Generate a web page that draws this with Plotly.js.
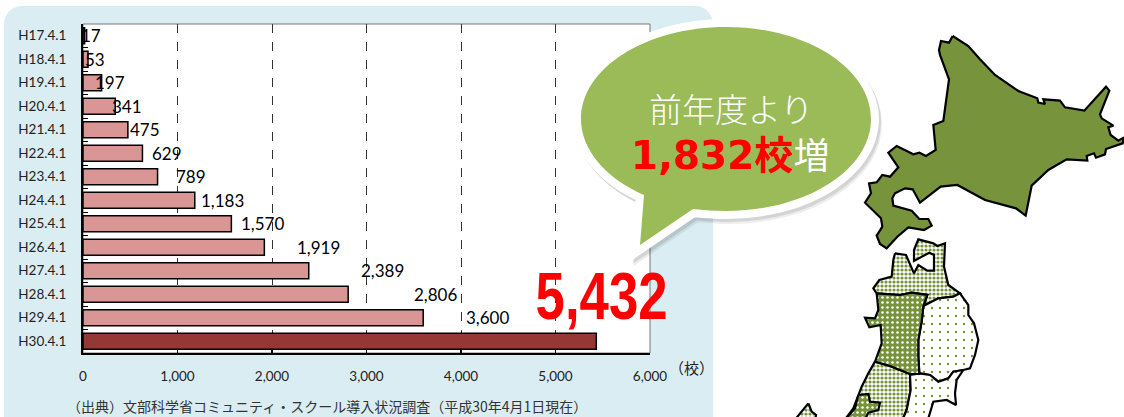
<!DOCTYPE html>
<html><head><meta charset="utf-8">
<script src="https://cdn.plot.ly/plotly-3.0.1.min.js"></script>
<style>html,body{margin:0;padding:0;background:#fff;overflow:hidden}#c{width:1124px;height:417px}</style>
</head><body><div id="c"></div>
<script>
const categories=["H17.4.1","H18.4.1","H19.4.1","H20.4.1","H21.4.1","H22.4.1","H23.4.1","H24.4.1","H25.4.1","H26.4.1","H27.4.1","H28.4.1","H29.4.1","H30.4.1"];
const schools=[17,53,197,341,475,629,789,1183,1570,1919,2389,2806,3600,5432];
const barColors=categories.map((c,i)=>i===categories.length-1?"#953735":"#d99694");
const labelPixelX=[91,95,110,127,145,167,191,222,262,318,382,435,487,601];

const W=1124,H=417;
const plotL=83,plotR=650,plotT=24,plotB=353;

// Map outlines: [zoomed x, zoomed y]; decoration beside the chart
const hokkaido=[[458,48],[505,78],[540,118],[585,165],[655,213],[712,235],[715,248],[735,252],[730,238],[780,242],[795,262],[853,272],[918,200],[928,212],[900,283],[905,295],[940,317],[925,322],[932,345],[955,362],[972,352],[968,370],[918,387],[915,403],[888,413],[882,400],[860,408],[862,422],[800,418],[745,450],[695,497],[677,587],[648,565],[555,540],[472,495],[422,500],[360,548],[338,508],[315,505],[285,520],[277,535],[280,557],[335,572],[358,597],[385,597],[395,617],[372,630],[325,622],[292,650],[260,685],[240,672],[230,647],[247,620],[243,595],[195,548],[213,520],[207,490],[230,487],[247,465],[270,470],[295,442],[265,398],[290,378],[340,403],[358,398],[378,408],[407,390],[400,315],[430,303],[447,178],[420,105],[417,90],[423,63],[447,68]];
const aomori=[[315,70],[348,75],[372,130],[385,105],[412,122],[432,122],[432,75],[418,68],[372,93],[372,60],[385,28],[430,40],[442,48],[465,40],[462,110],[475,165],[510,190],[490,200],[445,205],[400,228],[412,195],[365,188],[330,195],[260,190],[250,175],[268,150],[305,140],[310,90]];
const akita=[[260,190],[330,195],[365,188],[412,195],[400,228],[395,275],[385,330],[385,380],[388,432],[360,432],[300,408],[255,395],[275,340],[272,285],[238,292],[225,263],[255,265],[265,240]];
const iwate=[[400,228],[445,205],[490,200],[510,190],[535,225],[535,255],[552,280],[565,330],[555,375],[540,415],[520,420],[490,425],[475,445],[445,455],[420,435],[388,430],[385,380],[385,330],[395,275]];
const yamagata=[[255,395],[300,408],[360,432],[362,480],[350,540],[335,575],[160,575],[190,535],[215,470],[235,430]];
const miyagi=[[360,435],[388,430],[420,435],[445,455],[475,445],[490,425],[520,420],[500,450],[495,490],[498,525],[470,510],[430,515],[412,575],[335,575],[350,540],[362,480]];
const niigata=[[205,495],[235,492],[240,515],[270,518],[265,540],[235,548],[222,575],[160,575],[195,535]];
const sado=[[55,520],[65,545],[78,555],[75,575],[10,575],[45,530]];

const green="#77933c";
const hk=p=>[800+p[0]/3,20+p[1]/3], th=p=>[790+p[0]/3,230+p[1]/3];
function region(pts,conv,pattern,fill){
  const q=pts.map(conv);q.push(q[0]);
  const t={type:"scatter",mode:"lines",xaxis:"x2",yaxis:"y2",x:q.map(p=>p[0]),y:q.map(p=>p[1]),
    fill:"toself",fillcolor:fill||"#fff",line:{color:"#000",width:2.2},hoverinfo:"skip",showlegend:false};
  if(pattern)t.fillpattern=pattern;
  return t;
}
const checker={shape:".",fgcolor:green,bgcolor:"#fff",size:4,solidity:0.5};
const denseWhite={shape:".",fgcolor:"#fff",bgcolor:green,size:5,solidity:0.2};
const sparse={shape:".",fgcolor:green,bgcolor:"#fff",size:8,solidity:0.07};

const traces=[
 {type:"bar",orientation:"h",y:categories,x:schools,width:0.68,
  marker:{color:barColors,line:{color:"#000",width:1.5}},hoverinfo:"skip",showlegend:false},
 region(hokkaido,hk,null,green),
 region(aomori,th,checker),
 region(iwate,th,sparse),
 region(yamagata,th,checker),
 region(miyagi,th,sparse),
 region(akita,th,denseWhite),
 region(niigata,th,denseWhite),
 region(sado,th,checker)
];

const bubble="M644,195 C605,178 581,149 581,119 C581,68 646,27 726,27 C806,27 871,68 871,119 C871,170 806,211 726,211 C715,211 704,210 693,209 L640,245 Z";
const bubbleShadow1="M646,198 C607,181 583,152 583,122 C583,71 648,30 728,30 C808,30 873,71 873,122 C873,173 808,214 728,214 C717,214 706,213 695,212 L642,248 Z";
const bubbleShadow2="M647,199 C608,182 584,153 584,124 C584,73 649,32 729,32 C809,32 874,73 874,124 C874,175 809,216 729,216 C718,216 707,215 696,214 L643,250 Z";

const labelFont={family:"Lato, 'Open Sans', sans-serif",size:17,color:"#000"};
const annotations=schools.slice(0,13).map((v,i)=>({
  xref:"x2",yref:"y",x:labelPixelX[i],y:categories[i],text:v.toLocaleString("en-US"),
  showarrow:false,xanchor:"center",yanchor:"middle",font:labelFont}));
annotations.push(
 {xref:"x2",yref:"y2",x:labelPixelX[13],y:296,text:schools[13].toLocaleString("en-US"),showarrow:false,
  font:{family:"'Liberation Sans',sans-serif",size:66,color:"#ff0000",weight:700}},
 {xref:"x2",yref:"y2",x:691,y:367,text:"（校）",showarrow:false,
  font:{family:"'Noto Sans CJK JP'",size:15,color:"#222"}},
 {xref:"x2",yref:"y2",x:65,y:406,xanchor:"left",text:"（出典）文部科学省コミュニティ・スクール導入状況調査（平成30年4月1日現在）",showarrow:false,
  font:{family:"'Noto Sans CJK JP'",size:14,color:"#333"}},
 {xref:"x2",yref:"y2",x:731,y:108,text:"前年度より",showarrow:false,
  font:{family:"'Noto Sans CJK JP'",size:33,color:"#fff",weight:300}},
 {xref:"x2",yref:"y2",x:730,y:155,text:"<b><span style=\"color:#ff0000\">1,832校</span></b><span style=\"font-size:36px\">増</span>",showarrow:false,
  font:{family:"'DejaVu Sans','Noto Sans CJK JP'",size:39,color:"#fff"}}
);

const px=(x)=>(x/W).toFixed(5), py=(y)=>(1-y/H).toFixed(5);
const layout={
 width:W,height:H,margin:{l:0,r:0,t:0,b:0,pad:0},paper_bgcolor:"#fff",plot_bgcolor:"rgba(0,0,0,0)",showlegend:false,
 xaxis:{domain:[plotL/W,plotR/W],range:[0,6000],tickvals:[0,1000,2000,3000,4000,5000,6000],ticktext:["0","1,000","2,000","3,000","4,000","5,000","6,000"],
  showgrid:true,gridcolor:"#333",griddash:"dash",gridwidth:1,zeroline:false,ticks:"inside",ticklen:4,tickcolor:"#000",tickwidth:1.5,
  showline:true,linecolor:"#000",linewidth:2,ticklabelstandoff:10,anchor:"y",
  tickfont:{family:"Lato, 'Open Sans', sans-serif",size:13.5,color:"#222"}},
 yaxis:{domain:[1-plotB/H,1-plotT/H],type:"category",categoryorder:"array",categoryarray:categories,range:[13.5,-0.5],
  showgrid:false,zeroline:false,ticks:"inside",ticklen:5,tickcolor:"#000",tickwidth:1,tickson:"boundaries",
  showline:true,linecolor:"#000",linewidth:2,ticklabelstandoff:12,anchor:"x",
  tickfont:{family:"Lato, 'Open Sans', sans-serif",size:13.5,color:"#222"}},
 xaxis2:{domain:[0,1],range:[0,W],visible:false,fixedrange:true,anchor:"y2"},
 yaxis2:{domain:[0,1],range:[H,0],visible:false,fixedrange:true,anchor:"x2"},
 shapes:[
  {type:"path",layer:"below",xref:"paper",yref:"paper",
   path:`M${px(4)},${py(417)} L${px(4)},${py(24)} C${px(4)},${py(14)} ${px(12)},${py(6)} ${px(22)},${py(6)} L${px(695)},${py(6)} C${px(705)},${py(6)} ${px(713)},${py(14)} ${px(713)},${py(24)} L${px(713)},${py(417)} Z`,
   fillcolor:"#daedf3",line:{width:0}},
  {type:"rect",layer:"below",xref:"paper",yref:"paper",x0:plotL/W,x1:plotR/W,y0:1-plotB/H,y1:1-plotT/H,fillcolor:"#fff",line:{color:"#777",width:1}},
  {type:"path",layer:"above",xref:"x2",yref:"y2",path:bubbleShadow2,fillcolor:"rgba(0,0,0,0.07)",line:{color:"rgba(0,0,0,0.07)",width:16}},
  {type:"path",layer:"above",xref:"x2",yref:"y2",path:bubbleShadow1,fillcolor:"rgba(0,0,0,0.1)",line:{color:"rgba(0,0,0,0.1)",width:16}},
  {type:"path",layer:"above",xref:"x2",yref:"y2",path:bubble,fillcolor:"#fff",line:{color:"#fff",width:16}},
  {type:"path",layer:"above",xref:"x2",yref:"y2",path:bubble,fillcolor:"#9bbb59",line:{width:0}}
 ],
 annotations:annotations
};
Plotly.newPlot("c",traces,layout,{displayModeBar:false,staticPlot:true}).then(()=>{
  document.querySelectorAll(".annotation-text").forEach(t=>{
    if(t.textContent==="5,432"){t.setAttribute("textLength","132");t.setAttribute("lengthAdjust","spacingAndGlyphs");}
  });
});
</script></body></html>
